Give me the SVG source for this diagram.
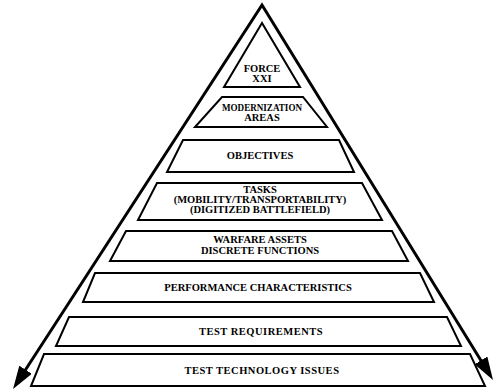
<svg xmlns="http://www.w3.org/2000/svg" width="495" height="392" viewBox="0 0 495 392">
<style>
.box{fill:#fff;stroke:#000;stroke-width:2;stroke-linejoin:miter}
.t{font-family:"Liberation Serif","Times New Roman",serif;font-weight:bold;font-size:10.5px;fill:#000;text-anchor:middle}
.w{letter-spacing:0.5px}
.edge{fill:none;stroke:#000;stroke-width:3;stroke-linejoin:miter}
</style>
<defs>
<marker id="ah" markerUnits="userSpaceOnUse" markerWidth="26" markerHeight="16" refX="15" refY="7.5" orient="auto-start-reverse">
<path d="M0,0 L23,7.5 L0,15 z" fill="#000"/>
</marker>
</defs>
<rect width="495" height="392" fill="#fff"/>
<g id="connectors">
<path class="edge" d="M17.4,382.3 L262,5 L488.8,373.2" marker-start="url(#ah)" marker-end="url(#ah)"/>
</g>
<g id="force-xxi">
<polygon class="box" points="262,23 300,87 224,87"/>
<text class="t" x="262" y="72">FORCE</text>
<text class="t" x="262" y="82">XXI</text>
</g>
<g id="modernization-areas">
<polygon class="box" points="222,97 303,97 327,127 195,127"/>
<text class="t" x="262" y="111" textLength="80" lengthAdjust="spacingAndGlyphs">MODERNIZATION</text>
<text class="t" x="262" y="121">AREAS</text>
</g>
<g id="objectives">
<polygon class="box" points="183,140 339,140 354,172 167,172"/>
<text class="t" x="260" y="159">OBJECTIVES</text>
</g>
<g id="tasks">
<polygon class="box" points="157,183 362,183 382,220 138,220"/>
<text class="t" x="260" y="193">TASKS</text>
<text class="t" x="260" y="203">(MOBILITY/TRANSPORTABILITY)</text>
<text class="t" x="260" y="213">(DIGITIZED BATTLEFIELD)</text>
</g>
<g id="warfare-assets">
<polygon class="box" points="126,231 392,231 408,261 110,261"/>
<text class="t" x="260" y="243">WARFARE ASSETS</text>
<text class="t" x="260" y="254">DISCRETE FUNCTIONS</text>
</g>
<g id="performance-characteristics">
<polygon class="box" points="95,273 420,273 434,302 83,302"/>
<text class="t" x="258" y="291">PERFORMANCE CHARACTERISTICS</text>
</g>
<g id="test-requirements">
<polygon class="box" points="69,317 447,317 461,346 56,346"/>
<text class="t w" x="261" y="335">TEST REQUIREMENTS</text>
</g>
<g id="test-technology-issues">
<polygon class="box" points="44,354 470,354 485,386 31,386"/>
<text class="t w" x="262" y="374">TEST TECHNOLOGY ISSUES</text>
</g>
</svg>
